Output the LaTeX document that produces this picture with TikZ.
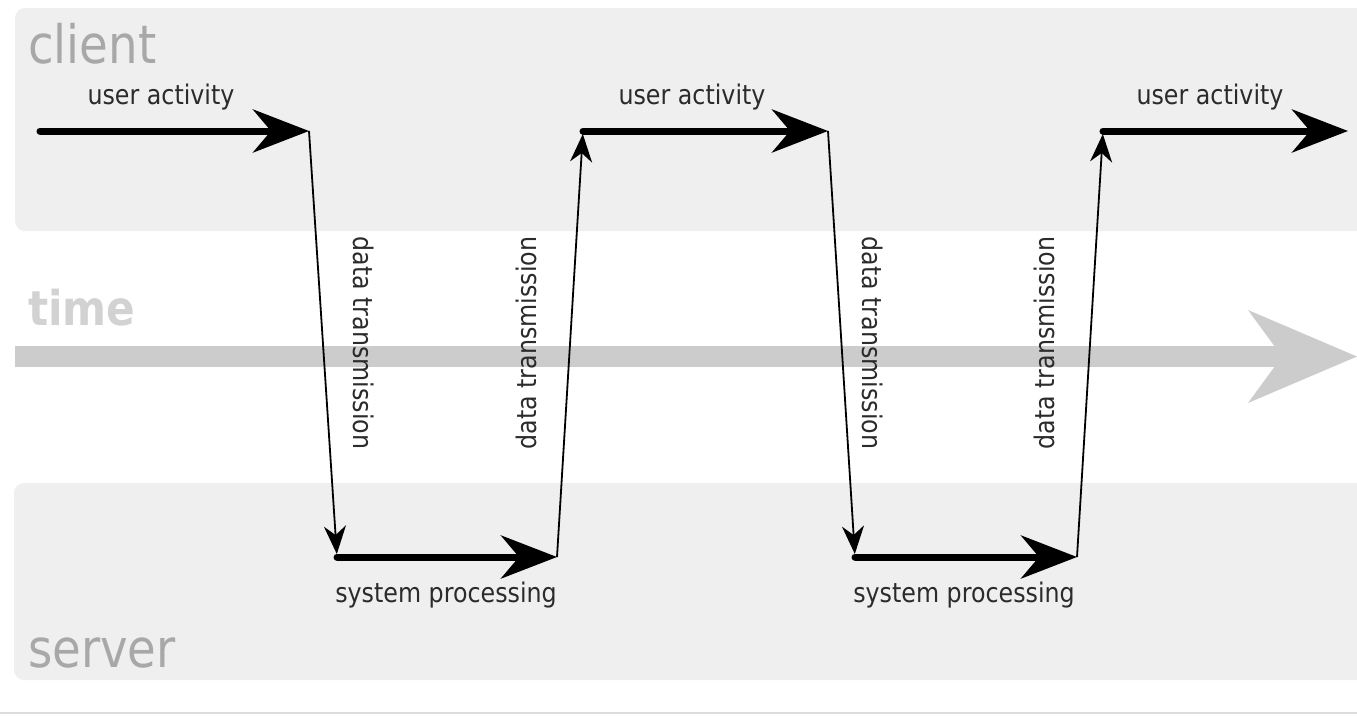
\documentclass[tikz,border=0pt]{standalone}
\usepackage{fontspec}
\setmainfont[FakeStretch=0.88]{DejaVu Sans}
\usetikzlibrary{arrows.meta}
\definecolor{panel}{HTML}{EFEFEF}
\definecolor{paneltext}{HTML}{A8A8A8}
\definecolor{timetext}{HTML}{D2D2D2}
\definecolor{timegray}{HTML}{CCCCCC}
\definecolor{labeltext}{HTML}{2B2B2B}
\definecolor{rulegray}{HTML}{DCDCDC}
\tikzset{
  panelbox/.style={fill=panel, draw=none, rounded corners=10pt},
  bigword/.style={text=paneltext, font=\fontsize{53}{60}\selectfont, anchor=base west, inner sep=0pt},
  heavy/.style={line width=7pt, line cap=round, -{Stealth[length=56pt,width=43pt,inset=18pt]}},
  light/.style={line width=1.8pt, shorten >=3pt, -{Stealth[length=28pt,width=22pt,inset=9pt]}},
  lbl/.style={text=labeltext, font=\fontsize{27}{30}\selectfont, inner sep=0pt},
}
\begin{document}
\begin{tikzpicture}[x=1pt,y=-1pt]
\useasboundingbox (0,0) rectangle (1357,715);
% panels
\fill[panelbox] (15,8) rectangle (1385,231);
\fill[panelbox] (14,483) rectangle (1385,680);
\draw[rulegray, line width=1.5pt] (0,713) -- (1357,713);
% time bar
\fill[timegray] (15,346) rectangle (1284,367);
\fill[timegray] (1248,310) -- (1357,356.5) -- (1248,403) -- (1282,356.5) -- cycle;
% big words
\node[bigword] (client) at (28,63) {client};
\node[bigword] (server) at (28,667) {server};
\node[bigword, text=timetext, font=\fontsize{48}{56}\selectfont\bfseries] (time) at (28,325) {time};
% points
\coordinate (a0) at (40,131);
\coordinate (a1) at (309,131);
\coordinate (b0) at (337,557);
\coordinate (b1) at (557,557);
\coordinate (c0) at (583,131);
\coordinate (c1) at (828,131);
\coordinate (d0) at (855,557);
\coordinate (d1) at (1077,557);
\coordinate (e0) at (1103,131);
\coordinate (e1) at (1348,131);
% thin transmission arrows
\draw[light] (a1) -- (b0);
\draw[light] (b1) -- (c0);
\draw[light] (c1) -- (d0);
\draw[light] (d1) -- (e0);
% thick arrows
\draw[heavy] (a0) -- (a1);
\draw[heavy] (c0) -- (c1);
\draw[heavy] (e0) -- (e1);
\draw[heavy] (b0) -- (b1);
\draw[heavy] (d0) -- (d1);
% labels
\node[lbl, anchor=base] (ua1) at (161,104) {user activity};
\node[lbl, anchor=base] (ua2) at (692,104) {user activity};
\node[lbl, anchor=base] (ua3) at (1210,104) {user activity};
\node[lbl, anchor=base] (sp1) at (446,602) {system processing};
\node[lbl, anchor=base] (sp2) at (964,602) {system processing};
\node[lbl, rotate=-90] (dt1) at (364,343) {data transmission};
\node[lbl, rotate=90] (dt2) at (526,343) {data transmission};
\node[lbl, rotate=-90] (dt3) at (873,343) {data transmission};
\node[lbl, rotate=90] (dt4) at (1044,343) {data transmission};
\end{tikzpicture}
\end{document}
